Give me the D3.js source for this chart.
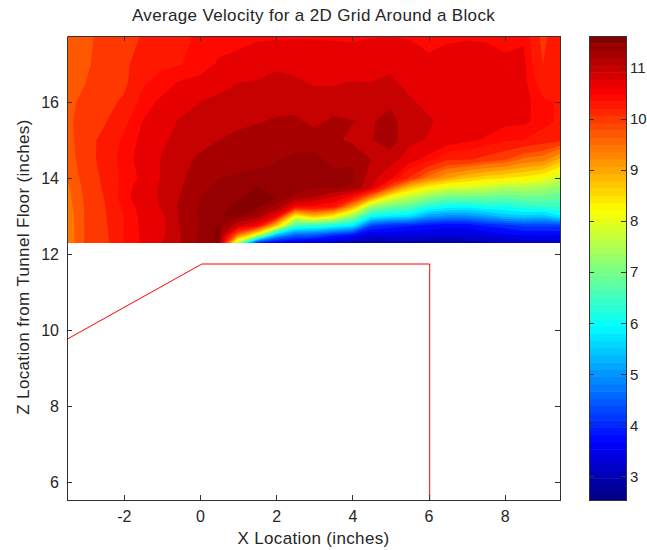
<!DOCTYPE html>
<html>
<head>
<meta charset="utf-8">
<script src="https://d3js.org/d3.v7.min.js"></script>
<style>
  html, body { margin: 0; padding: 0; background: #fff; }
  text { font-family: "Liberation Sans", Arial, sans-serif; fill: #262626; }
  .label { font-size: 17px; letter-spacing: 0.35px; }
  .axis text { font-size: 16px; }
  .bar-axis text { font-size: 15px; }
  .axis path, .axis line { stroke: #333; shape-rendering: crispEdges; }
</style>
</head>
<body>
<div id="content"></div>
<script>
// grid locations of the measurements (inches)
var xLocations = [-3.49, -3, -2.5, -2, -1.5, -1, -0.5, 0, 0.5, 1, 1.5, 2, 2.5, 3, 3.5, 4, 4.5, 5, 5.5, 6, 6.5, 7, 7.5, 8, 8.5, 9, 9.45];
var zLocations = [17.74, 17, 16.5, 16, 15.5, 15, 14.5, 14, 13.75, 13.5, 13.25, 13, 12.75, 12.5, 12.29];

// average velocity, one list per x location, top of the grid to the bottom
var velocity = [
  [9.75, 9.75, 9.78, 9.8, 9.8, 9.75, 9.72, 9.65, 9.6, 9.58, 9.55, 9.52, 9.5, 9.5, 9.5],
  [9.78, 9.8, 9.85, 9.9, 9.95, 10.02, 10.0, 9.95, 9.92, 9.9, 9.88, 9.88, 9.88, 9.88, 9.88],
  [9.95, 9.98, 10.02, 10.05, 10.12, 10.25, 10.28, 10.22, 10.2, 10.16, 10.14, 10.12, 10.1, 10.08, 10.05],
  [10.05, 10.08, 10.08, 10.2, 10.38, 10.5, 10.55, 10.52, 10.55, 10.58, 10.5, 10.45, 10.45, 10.45, 10.45],
  [10.17, 10.3, 10.42, 10.55, 10.65, 10.72, 10.75, 10.7, 10.78, 10.78, 10.75, 10.72, 10.7, 10.7, 10.68],
  [10.28, 10.4, 10.55, 10.7, 10.85, 10.9, 10.97, 10.98, 11.0, 11.0, 10.98, 10.9, 10.88, 10.9, 10.95],
  [10.38, 10.44, 10.68, 10.82, 10.98, 11.05, 11.12, 11.15, 11.18, 11.22, 11.25, 11.25, 11.22, 11.2, 11.2],
  [10.5, 10.55, 10.72, 10.95, 11.05, 11.1, 11.25, 11.38, 11.42, 11.45, 11.48, 11.47, 11.46, 11.5, 11.48],
  [10.55, 10.68, 10.88, 11.0, 11.1, 11.2, 11.35, 11.45, 11.48, 11.5, 11.52, 11.54, 11.56, 11.58, 11.56],
  [10.58, 10.72, 10.95, 11.03, 11.13, 11.28, 11.38, 11.48, 11.5, 11.54, 11.58, 11.58, 11.0, 9.5, 7.5],
  [10.6, 10.85, 10.97, 11.05, 11.18, 11.32, 11.42, 11.48, 11.56, 11.58, 11.58, 11.35, 10.6, 8.0, 3.9],
  [10.6, 10.92, 11.0, 11.08, 11.23, 11.38, 11.44, 11.5, 11.5, 11.55, 11.4, 10.7, 8.8, 5.4, 3.5],
  [10.62, 10.9, 10.98, 11.1, 11.25, 11.35, 11.5, 11.5, 11.56, 11.4, 10.6, 8.3, 6.6, 4.6, 3.4],
  [10.62, 10.85, 10.93, 11.05, 11.12, 11.38, 11.5, 11.5, 11.46, 11.2, 10.55, 8.9, 6.4, 4.5, 3.3],
  [10.63, 10.75, 10.93, 11.05, 11.25, 11.25, 11.4, 11.5, 11.47, 10.95, 10.4, 8.4, 6.2, 4.1, 3.2],
  [10.63, 10.72, 10.97, 11.05, 11.21, 11.15, 11.42, 11.5, 11.42, 10.5, 9.2, 7.4, 5.9, 3.85, 2.95],
  [10.64, 10.75, 10.96, 11.05, 11.17, 11.19, 11.2, 11.05, 10.98, 9.4, 7.4, 6.1, 4.3, 3.45, 2.85],
  [10.64, 10.88, 11.02, 11.15, 11.3, 11.3, 11.1, 10.7, 9.8, 8.2, 7.0, 5.9, 4.1, 3.5, 2.95],
  [10.64, 10.72, 10.85, 11.0, 11.02, 11.03, 10.78, 10.1, 8.8, 7.7, 6.8, 5.8, 4.0, 3.45, 2.95],
  [10.55, 10.72, 10.8, 10.85, 11.0, 10.92, 10.55, 9.5, 8.3, 7.3, 6.3, 5.2, 3.85, 3.45, 2.85],
  [10.63, 10.7, 10.75, 10.78, 10.82, 10.82, 10.2, 9.1, 8.0, 7.0, 6.1, 5.0, 3.75, 3.4, 2.8],
  [10.64, 10.7, 10.75, 10.76, 10.8, 10.7, 10.2, 8.8, 7.95, 7.0, 6.05, 5.0, 3.75, 3.45, 2.85],
  [10.63, 10.72, 10.75, 10.76, 10.78, 10.62, 10.05, 8.6, 7.8, 7.0, 6.2, 5.2, 4.0, 3.5, 3.0],
  [10.55, 10.72, 10.75, 10.76, 10.72, 10.48, 9.9, 8.5, 7.6, 6.9, 6.2, 5.5, 4.1, 3.6, 3.15],
  [10.62, 10.7, 10.72, 10.74, 10.7, 10.45, 9.6, 8.4, 7.6, 7.0, 6.4, 5.6, 4.3, 3.7, 3.2],
  [10.05, 10.15, 10.3, 10.5, 10.55, 10.3, 9.5, 8.2, 7.5, 7.0, 6.5, 5.5, 4.3, 3.7, 3.2],
  [10.42, 10.42, 10.42, 10.42, 10.4, 10.2, 9.0, 7.8, 7.3, 6.9, 6.5, 5.9, 4.3, 3.7, 3.2]
];

// outline of the block
var blockX = [-3.49, 0.05, 6.03, 6.03];
var blockZ = [9.76, 11.74, 11.74, 5.53];

var xTicks = [-2, 0, 2, 4, 6, 8];
var zTicks = [6, 8, 10, 12, 14, 16];
var barTicks = [3, 4, 5, 6, 7, 8, 9, 10, 11];

// contour levels, the tight ones near the top are the bands seen in the red area
var contourLevels = d3.range(2.54, 9.4, 0.284).concat([9.65, 9.85, 10.15, 10.45, 10.65, 10.95, 11.2, 11.45, 11.55]);
var velocityRange = [2.54, 11.62];

var margin = {top: 36, right: 87, bottom: 50, left: 67},
    width = 560 - margin.left,
    height = 500 - margin.top,
    gridBottom = 243 - margin.top;

// matlab jet, 64 steps
function jet(v) {
  var t = (v - velocityRange[0]) / (velocityRange[1] - velocityRange[0]);
  t = (Math.min(63, Math.floor(t * 64)) + 0.5) / 64;
  function c(a) { return Math.round(255 * Math.max(0, Math.min(1, 1.5 - Math.abs(4 * t - a)))); }
  return 'rgb(' + c(3) + ',' + c(2) + ',' + c(1) + ')';
}

// band colour, orange bands in the reference sit a step above their level
function bandColor(level) {
  return jet(level < 10.2 && level > 9 ? level + 0.12 : level + 0.001);
}

var svg = d3.select('#content')
    .append('svg')
    .attr('width', 647)
    .attr('height', 550)
    .style('display', 'block');

var g = svg.append('g')
    .attr('transform', 'translate(' + margin.left + ',' + margin.top + ')');

var x = d3.scaleLinear().domain([-3.49, 9.45]).range([0, width]);
var y = d3.scaleLinear().domain([5.53, 17.74]).range([height, 0]);

// grid index to data, the grid rows are not evenly spaced
var colToX = d3.scaleLinear().domain(d3.range(xLocations.length)).range(xLocations).clamp(true);
var rowToZ = d3.scaleLinear().domain(d3.range(zLocations.length)).range(zLocations).clamp(true);

var nx = xLocations.length, nz = zLocations.length;
var flat = [];
for (var j = 0; j < nz; j++) {
  for (var i = 0; i < nx; i++) flat.push(velocity[i][j]);
}

var contours = d3.contours().size([nx, nz]).thresholds(contourLevels)(flat);

var gridPath = d3.geoPath(d3.geoTransform({
  point: function(px, py) {
    this.stream.point(x(colToX(px - 0.5)), y(rowToZ(py - 0.5)));
  }
}));

// Draw filled contours
g.append('rect')
    .attr('x', 0)
    .attr('y', 0)
    .attr('width', width)
    .attr('height', gridBottom)
    .attr('fill', jet(velocityRange[0]));

g.selectAll('path.band')
    .data(contours)
  .enter().append('path')
    .attr('class', 'band')
    .attr('d', gridPath)
    .attr('fill', function(d) { return bandColor(d.value); });

// Draw block
var blockLine = d3.line()
    .x(function(d) { return x(d); })
    .y(function(d, i) { return y(blockZ[i]); });

g.append('path')
    .datum(blockX)
    .attr('fill', 'none')
    .attr('stroke', '#f00')
    .attr('stroke-width', 1)
    .attr('d', blockLine);

// Append axes, ticks point inwards on all four sides
g.append('g')
    .attr('class', 'axis')
    .attr('transform', 'translate(0,' + height + ')')
    .call(d3.axisBottom(x).tickValues(xTicks).tickSizeInner(-5).tickSizeOuter(0).tickPadding(11).tickFormat(String));

g.append('g')
    .attr('class', 'axis')
    .call(d3.axisLeft(y).tickValues(zTicks).tickSizeInner(-5).tickSizeOuter(0).tickPadding(8).tickFormat(String));

g.append('g')
    .attr('class', 'axis')
    .call(d3.axisTop(x).tickValues(xTicks).tickSizeInner(-5).tickSizeOuter(0).tickFormat(''));

g.append('g')
    .attr('class', 'axis')
    .attr('transform', 'translate(' + width + ',0)')
    .call(d3.axisRight(y).tickValues(zTicks).tickSizeInner(-5).tickSizeOuter(0).tickFormat(''));

// Titles
g.append('text')
    .attr('class', 'label')
    .attr('x', width / 2)
    .attr('y', -15)
    .style('text-anchor', 'middle')
    .text('Average Velocity for a 2D Grid Around a Block');

g.append('text')
    .attr('class', 'label')
    .attr('x', width / 2)
    .attr('y', height + 44)
    .style('text-anchor', 'middle')
    .text('X Location (inches)');

g.append('text')
    .attr('class', 'label')
    .attr('transform', 'rotate(-90)')
    .attr('x', -height / 2 + 1)
    .attr('y', -38)
    .style('text-anchor', 'middle')
    .text('Z Location from Tunnel Floor (inches)');

// Colorbar
var barLeft = 589, barWidth = 37;
var bar = svg.append('g')
    .attr('transform', 'translate(' + barLeft + ',' + margin.top + ')');

var barY = d3.scaleLinear().domain(velocityRange).range([height, 0]);
var barSteps = d3.range(64).map(function(i) {
  return velocityRange[0] + i * (velocityRange[1] - velocityRange[0]) / 64;
});

bar.selectAll('rect')
    .data(barSteps)
  .enter().append('rect')
    .attr('x', 0)
    .attr('width', barWidth)
    .attr('y', function(d, i) { return barY(barSteps[i + 1] || velocityRange[1]); })
    .attr('height', height / 64 + 0.5)
    .attr('fill', function(d) { return jet(d + 0.001); });

bar.append('g')
    .attr('class', 'axis')
    .call(d3.axisLeft(barY).tickValues(barTicks).tickSizeInner(-5).tickSizeOuter(0).tickFormat(''));

bar.append('g')
    .attr('class', 'axis bar-axis')
    .attr('transform', 'translate(' + barWidth + ',0)')
    .call(d3.axisRight(barY).tickValues(barTicks).tickSizeInner(-5).tickSizeOuter(0).tickPadding(4).tickFormat(String));

bar.append('rect')
    .attr('width', barWidth)
    .attr('height', height)
    .attr('fill', 'none')
    .attr('stroke', '#333')
    .style('shape-rendering', 'crispEdges');
</script>
</body>
</html>
